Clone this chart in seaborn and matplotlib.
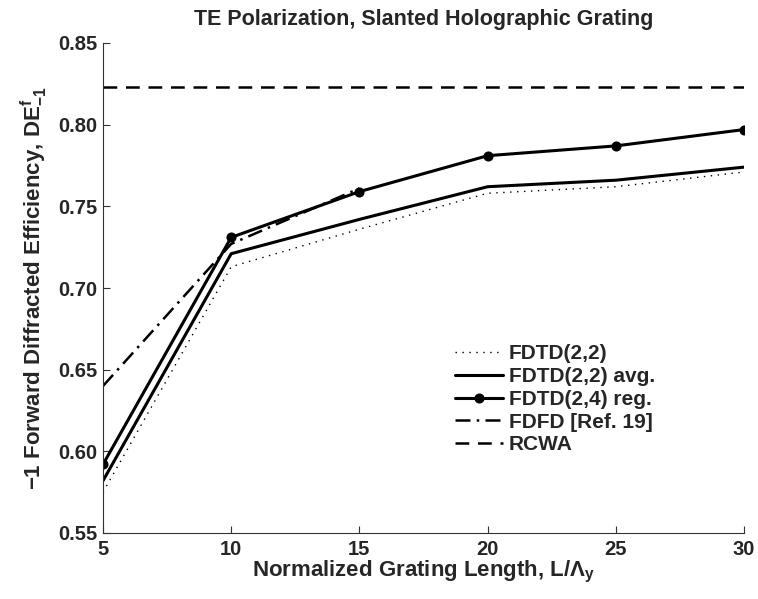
import matplotlib
matplotlib.use("Agg")
import matplotlib.pyplot as plt
import seaborn as sns
import pandas as pd

# ---- data ----
lengths = [5, 10, 15, 20, 25, 30]
fdtd22 = [0.575, 0.713, 0.736, 0.758, 0.762, 0.771]
fdtd22_avg = [0.582, 0.721, 0.742, 0.762, 0.766, 0.774]
fdtd24_reg = [0.592, 0.731, 0.759, 0.781, 0.787, 0.797]
fdfd_x = [5, 10, 15]
fdfd = [0.640, 0.727, 0.761]
rcwa_x = [5, 30]
rcwa = [0.823, 0.823]
labels = ["FDTD(2,2)", "FDTD(2,2) avg.", "FDTD(2,4) reg.", "FDFD [Ref. 19]", "RCWA"]
title = "TE Polarization, Slanted Holographic Grating"
xticks = [5, 10, 15, 20, 25, 30]
yticks = [0.55, 0.60, 0.65, 0.70, 0.75, 0.80, 0.85]

sns.set_theme(style="ticks")
plt.rcParams["font.family"] = ["Liberation Sans", "DejaVu Sans"]
plt.rcParams["font.weight"] = "bold"
plt.rcParams["mathtext.fontset"] = "custom"
plt.rcParams["mathtext.rm"] = "Liberation Sans:bold"
plt.rcParams["mathtext.bf"] = "Liberation Sans:bold"
plt.rcParams["mathtext.it"] = "Liberation Sans:bold"
plt.rcParams["mathtext.default"] = "bf"

FS = 14.5
LFS = 16

fig = plt.figure(figsize=(7.58, 5.99), dpi=100)
ax = fig.add_axes([103 / 758, 66 / 599, 641 / 758, 490 / 599])

d1 = pd.DataFrame({"x": lengths, "y": fdtd22})
d2 = pd.DataFrame({"x": lengths, "y": fdtd22_avg})
d3 = pd.DataFrame({"x": lengths, "y": fdtd24_reg})
d4 = pd.DataFrame({"x": fdfd_x, "y": fdfd})
d5 = pd.DataFrame({"x": rcwa_x, "y": rcwa})

sns.lineplot(data=d1, x="x", y="y", ax=ax, color="black", lw=1.0,
             linestyle=(0, (1, 4)), label=labels[0])
sns.lineplot(data=d2, x="x", y="y", ax=ax, color="black", lw=2.2, label=labels[1])
sns.lineplot(data=d3, x="x", y="y", ax=ax, color="black", lw=2.2, marker="o",
             markersize=6.5, markeredgecolor="black", label=labels[2])
sns.lineplot(data=d4, x="x", y="y", ax=ax, color="black", lw=1.8,
             linestyle=(0, (6, 2.5, 1, 2.5)), label=labels[3])
sns.lineplot(data=d5, x="x", y="y", ax=ax, color="black", lw=1.8,
             linestyle=(0, (5.5, 3.5)), label=labels[4])

ax.set_xlim(5, 30)
ax.set_ylim(0.55, 0.85)
ax.set_xticks(xticks)
ax.set_xticklabels([str(t) for t in xticks])
ax.set_yticks(yticks)
ax.set_yticklabels([f"{t:.2f}" for t in yticks])
ax.tick_params(direction="in", length=5, width=0.8, color="#333333",
               labelsize=FS)
ax.tick_params(axis="x", pad=5)
ax.tick_params(axis="y", pad=4)
for lab in ax.get_xticklabels() + ax.get_yticklabels():
    lab.set_fontweight("bold")
for s in ["top", "right"]:
    ax.spines[s].set_visible(False)
for s in ["left", "bottom"]:
    ax.spines[s].set_color("#333333")
    ax.spines[s].set_linewidth(0.8)

ax.set_xlabel("Normalized Grating Length, L/Λ$_\\mathbf{y}$", fontsize=LFS,
              fontweight="bold", labelpad=0)
ax.set_ylabel("\u22121 Forward Diffracted Efficiency, DE$^\\mathbf{f}_{\\mathbf{-1}}$",
              fontsize=LFS, fontweight="bold", labelpad=6)
ax.set_title(title, fontsize=15.5, fontweight="bold", pad=13)

leg = ax.legend(loc="upper left", bbox_to_anchor=(0.549, 0.385), frameon=False,
                fontsize=15, handlelength=2.3, handletextpad=0.28,
                labelspacing=0.18, borderpad=0, borderaxespad=0)
for t in leg.get_texts():
    t.set_fontweight("bold")

fig.savefig("out.png", dpi=100)
